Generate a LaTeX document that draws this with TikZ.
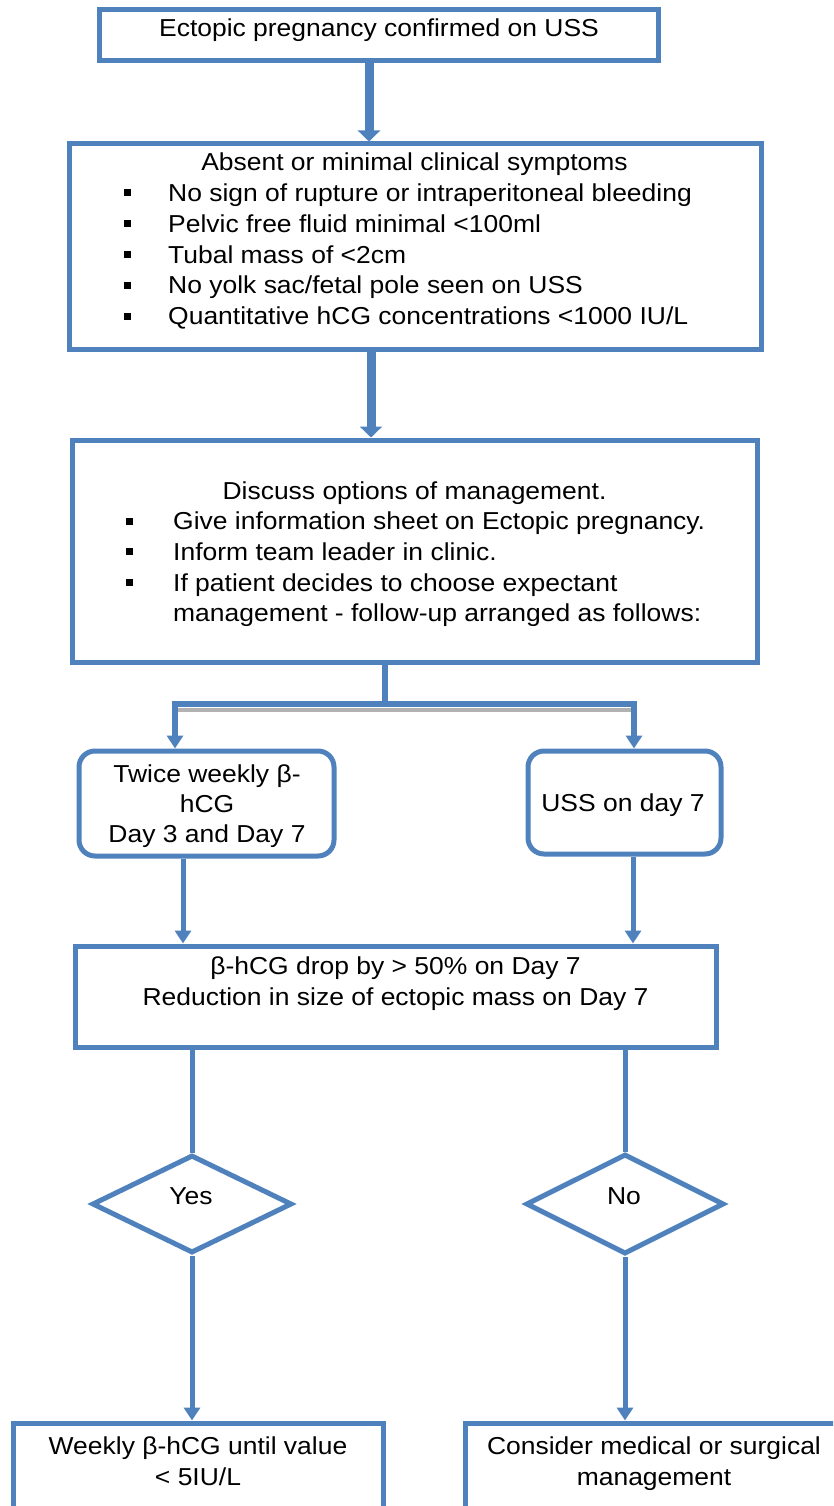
\documentclass[tikz,border=0pt]{standalone}
\usepackage{fontspec}
\setmainfont{Liberation Sans}[FakeStretch=1.08]
\usetikzlibrary{arrows.meta,shapes.geometric,calc}
\definecolor{ob}{HTML}{4F81BD}
\begin{document}
\begin{tikzpicture}[x=1pt,y=-1pt,
  box/.style={draw=ob, line width=5pt, fill=white, inner sep=0pt},
  rbox/.style={box, rounded corners=16pt},
  dia/.style={box, diamond},
  txt/.style={anchor=base, inner sep=0pt, font=\fontsize{24.5}{30.6}\selectfont},
  itm/.style={txt, anchor=base west},
  bul/.style={fill=black, inner sep=0pt, minimum size=7pt},
  fat/.style={draw=ob, line width=9pt, -{Triangle[width=22pt,length=11pt]}},
  conn/.style={draw=ob, line width=5pt},
  arr/.style={conn, -{Triangle[width=16pt,length=13pt]}},
  shadow/.style={draw=gray!60, line width=4pt}
]
\useasboundingbox (0,0) rectangle (833,1506);
\clip (0,0) rectangle (833,1506);

% boxes
\node[box, minimum width=559pt, minimum height=51pt] (b1) at (379,35.5) {};
\node[box, minimum width=692pt, minimum height=205pt] (b2) at (415,246.5) {};
\node[box, minimum width=685pt, minimum height=222pt] (b3) at (414.5,551) {};
\node[rbox, minimum width=255pt, minimum height=105pt] (rL) at (206.5,803.5) {};
\node[rbox, minimum width=193pt, minimum height=103pt] (rR) at (624.5,802.5) {};
\node[box, minimum width=641pt, minimum height=101pt] (b4) at (395.5,996.5) {};
\node[dia, minimum width=200pt, minimum height=98pt] (dL) at (192,1204) {};
\node[dia, minimum width=198pt, minimum height=100pt] (dR) at (625,1204) {};
\node[box, minimum width=370pt, minimum height=137pt] (bL) at (198,1491.5) {};
\node[box, minimum width=377pt, minimum height=137pt] (bR) at (653.5,1491.5) {};

% texts
\node[txt] (t1) at (379,37) {Ectopic pregnancy confirmed on USS};

\node[txt] (t2) at (414.5,170.5) {Absent or minimal clinical symptoms};
\foreach \y/\t in {201.5/{No sign of rupture or intraperitoneal bleeding},
                   232.3/{Pelvic free fluid minimal <100ml},
                   263.1/{Tubal mass of <2cm},
                   293.9/{No yolk sac/fetal pole seen on USS},
                   324.7/{Quantitative hCG concentrations <1000 IU/L}}{
  \node[bul] at (127,\y-8.5) {};
  \node[itm] at (168,\y) {\t};
}

\node[txt] (t3) at (414.5,499) {Discuss options of management.};
\foreach \y/\t in {529.7/{Give information sheet on Ectopic pregnancy.},
                   560.3/{Inform team leader in clinic.},
                   591/{If patient decides to choose expectant}}{
  \node[bul] at (129,\y-8.5) {};
  \node[itm] at (173,\y) {\t};
}
\node[itm] at (173,621.6) {management - follow-up arranged as follows:};

\node[txt] at (207,782.5) {Twice weekly β-};
\node[txt] at (207,812.7) {hCG};
\node[txt] at (207,842) {Day 3 and Day 7};
\node[txt] at (623,811.7) {USS on day 7};

\node[txt] at (395.5,974) {β-hCG drop by > 50\% on Day 7};
\node[txt] at (395.5,1005) {Reduction in size of ectopic mass on Day 7};

\node[txt] at (191,1204.5) {Yes};
\node[txt] at (624,1204.5) {No};

\node[txt] at (198,1454) {Weekly β-hCG until value};
\node[txt] at (198,1485) {< 5IU/L};
\node[txt] at (654,1454) {Consider medical or surgical};
\node[txt] at (654,1485) {management};

% connectors
\coordinate (a1) at ([xshift=-10pt]b1.south);
\draw[fat] (a1) -- (a1 |- b2.north);
\coordinate (a2) at ([xshift=-44pt]b2.south);
\draw[fat] (a2) -- (a2 |- b3.north);

\coordinate (br) at (385,704);
\coordinate (bl) at (175,704);
\coordinate (brr) at (634,704);
\draw[shadow] (177,709.5) -- (632,709.5);
\draw[conn, line width=6pt] (br |- b3.south) -- (br);
\draw[arr, line width=6pt] (br) -- (bl) -- (bl |- rL.north);
\draw[arr, line width=6pt] (br) -- (brr) -- (brr |- rR.north);

\coordinate (c1) at (183,0);
\coordinate (c2) at (633,0);
\draw[arr] (c1 |- rL.south) -- (c1 |- b4.north);
\draw[arr] (c2 |- rR.south) -- (c2 |- b4.north);

\draw[conn] (b4.south -| dL.north) -- (dL.north);
\draw[conn] (b4.south -| dR.north) -- (dR.north);

\draw[arr] (dL.south) -- (dL.south |- bL.north);
\draw[arr] (dR.south) -- (dR.south |- bR.north);
\end{tikzpicture}
\end{document}
